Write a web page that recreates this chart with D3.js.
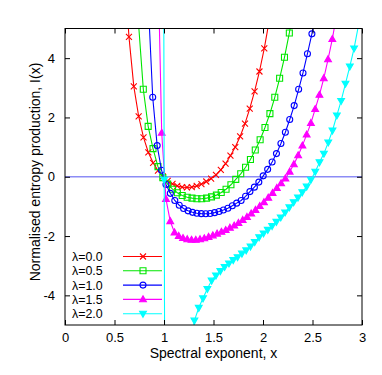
<!DOCTYPE html>
<html><head><meta charset="utf-8">
<script src="https://cdn.jsdelivr.net/npm/d3@7"></script>
<style>
body{margin:0;background:#fff}
text{font-family:"Liberation Sans",Arial,Helvetica,sans-serif;font-size:14px;fill:#000}
</style>
</head><body>
<svg id="chart" width="382" height="375"></svg>
<script>
// ---------- data ----------
const seriesLabels = ["λ=0.0","λ=0.5","λ=1.0","λ=1.5","λ=2.0"];
const xTicks = [0,0.5,1,1.5,2,2.5,3];
const yTicks = [-4,-2,0,2,4];
const xTickLabels = ["0","0.5","1","1.5","2","2.5","3"];
const yTickLabels = ["-4","-2","0","2","4"];

const xL00 = [0.597,0.646,0.695,0.744,0.793,0.842,0.890,0.939,0.988,1.037,1.086,1.134,1.183,1.232,1.281,1.330,1.378,1.427,1.476,1.525,1.574,1.622,1.671,1.720,1.769,1.818,1.866,1.915,1.964,2.013,2.062];
const yL00 = [7.3,4.72,3.05,2.04,1.33,0.82,0.47,0.21,0.01,-0.14,-0.24,-0.31,-0.35,-0.36,-0.35,-0.31,-0.25,-0.16,-0.06,0.06,0.23,0.44,0.71,1.00,1.36,1.79,2.30,2.88,3.55,4.33,5.25];

const xL05 = [0.742,0.791,0.840,0.889,0.939,0.988,1.037,1.086,1.135,1.184,1.234,1.283,1.332,1.381,1.430,1.480,1.529,1.578,1.627,1.676,1.725,1.775,1.824,1.873,1.922,1.971,2.020,2.070,2.119,2.168,2.217,2.266,2.315];
const yL05 = [5.2,2.95,1.70,0.95,0.34,-0.03,-0.25,-0.42,-0.54,-0.63,-0.69,-0.72,-0.74,-0.74,-0.72,-0.68,-0.62,-0.53,-0.42,-0.27,-0.09,0.10,0.32,0.58,0.90,1.25,1.66,2.13,2.68,3.32,4.03,4.85,5.8];

const xL10 = [0.841,0.886,0.931,0.975,1.020,1.064,1.109,1.154,1.198,1.243,1.288,1.332,1.377,1.422,1.466,1.511,1.556,1.600,1.645,1.690,1.734,1.779,1.824,1.868,1.913,1.958,2.002,2.047,2.092,2.136,2.181,2.226,2.270,2.315,2.360,2.404,2.449,2.494,2.538];
const yL10 = [5.9,2.68,1.05,0.22,-0.26,-0.56,-0.80,-0.96,-1.07,-1.15,-1.20,-1.23,-1.245,-1.25,-1.24,-1.21,-1.17,-1.12,-1.06,-0.98,-0.89,-0.80,-0.66,-0.50,-0.35,-0.18,0.03,0.25,0.50,0.78,1.12,1.50,1.93,2.40,2.95,3.50,4.15,4.82,5.6];

const xL15 = [0.934,0.977,1.020,1.063,1.106,1.149,1.192,1.235,1.278,1.321,1.364,1.407,1.450,1.493,1.536,1.580,1.623,1.666,1.709,1.752,1.795,1.838,1.881,1.924,1.967,2.010,2.053,2.097,2.140,2.183,2.226,2.269,2.312,2.355,2.398,2.441,2.484,2.527,2.570,2.614,2.657,2.700,2.743];
const yL15 = [8.0,1.48,-0.75,-1.50,-1.88,-2.00,-2.07,-2.11,-2.13,-2.13,-2.11,-2.08,-2.03,-1.98,-1.92,-1.86,-1.80,-1.72,-1.65,-1.56,-1.46,-1.36,-1.24,-1.12,-0.99,-0.86,-0.71,-0.55,-0.38,-0.22,-0.06,0.17,0.42,0.72,1.05,1.42,1.81,2.28,2.76,3.32,3.96,4.64,5.45];

const xL20 = [0.958,1.002,1.046,1.089,1.133,1.176,1.220,1.263,1.307,1.351,1.394,1.438,1.481,1.525,1.569,1.612,1.656,1.699,1.743,1.787,1.830,1.874,1.917,1.961,2.005,2.048,2.092,2.135,2.179,2.223,2.266,2.310,2.353,2.397,2.441,2.484,2.528,2.571,2.615,2.659,2.702,2.746,2.789,2.833,2.877,2.920,2.964];
const yL20 = [60,-0.1,-60,-30,-17,-11,-7.9,-6.1,-4.85,-4.42,-4.10,-3.78,-3.50,-3.33,-3.18,-3.04,-2.92,-2.81,-2.71,-2.59,-2.48,-2.35,-2.20,-2.04,-1.91,-1.79,-1.66,-1.52,-1.37,-1.20,-1.03,-0.86,-0.70,-0.52,-0.33,-0.10,0.17,0.49,0.78,1.16,1.56,2.07,2.56,3.14,3.72,4.33,5.1];

const seriesColors = ["#ff0000","#00e600","#0000ff","#ff00ff","#00ffff"];
const seriesMarkers = ["x","square","circle","triUp","triDown"];

const seriesX = [xL00,xL05,xL10,xL15,xL20];
const seriesY = [yL00,yL05,yL10,yL15,yL20];

// ---------- layout ----------
const svg = d3.select("#chart");
const pLeft = 65, pRight = 362, pTop = 28.5, pBottom = 325;
const x = d3.scaleLinear().domain([0,3]).range([pLeft,pRight]);
const y = d3.scaleLinear().domain([-5,5]).range([pBottom,pTop]);

svg.append("defs").append("clipPath").attr("id","plotclip")
  .append("rect").attr("x",pLeft).attr("y",pTop).attr("width",pRight-pLeft).attr("height",pBottom-pTop);

// zero line
svg.append("line")
  .attr("x1",x(0)).attr("x2",x(3)).attr("y1",y(0)).attr("y2",y(0))
  .attr("stroke","#8c8cf5").attr("stroke-width",1.6);

function markerPath(type){
  switch(type){
    case "x": return "M-3,-3L3,3M-3,3L3,-3";
    case "square": return "M-3,-3H3V3H-3Z";
    case "circle": return "M3,0A3,3 0 1,1 -3,0A3,3 0 1,1 3,0Z";
    case "triUp": return "M0,-3.6L3.4,2.4L-3.4,2.4Z";
    case "triDown": return "M0,3.6L3.4,-2.4L-3.4,-2.4Z";
  }
}
function filled(type){ return type==="triUp"||type==="triDown"; }

const line = d3.line().x(d=>x(d[0])).y(d=>y(d[1]));
const plotG = svg.append("g").attr("clip-path","url(#plotclip)");

seriesX.forEach((xs,i)=>{
  const pts = xs.map((xv,j)=>[xv,seriesY[i][j]]);
  const col = seriesColors[i];
  plotG.append("path").datum(pts).attr("d",line)
    .attr("fill","none").attr("stroke",col).attr("stroke-width",1.1);
  const vis = pts.filter(p=>p[1]>=-5 && p[1]<=5);
  plotG.selectAll(null).data(vis).enter().append("path")
    .attr("transform",d=>`translate(${x(d[0])},${y(d[1])})`)
    .attr("d",markerPath(seriesMarkers[i]))
    .attr("fill",filled(seriesMarkers[i])?col:"none")
    .attr("stroke",col).attr("stroke-width",1.1);
});

// legend
const legY0 = 256.5, legDy = 14.3;
seriesLabels.forEach((lab,i)=>{
  const ly = legY0 + i*legDy;
  svg.append("text").attr("x",72).attr("y",ly).attr("dy","0.36em")
    .style("font-size","12.4px").text(lab);
  svg.append("line").attr("x1",123).attr("x2",162).attr("y1",ly).attr("y2",ly)
    .attr("stroke",seriesColors[i]).attr("stroke-width",1.1);
  svg.append("path").attr("transform",`translate(143,${ly})`)
    .attr("d",markerPath(seriesMarkers[i]))
    .attr("fill",filled(seriesMarkers[i])?seriesColors[i]:"none")
    .attr("stroke",seriesColors[i]).attr("stroke-width",1.1);
});

// axes (gnuplot style: inward ticks mirrored)
const tl = 5;
const axB = svg.append("g").attr("transform",`translate(0,${pBottom})`)
  .call(d3.axisBottom(x).tickValues(xTicks).tickSize(-tl).tickPadding(8)
    .tickFormat((d,i)=>xTickLabels[i]));
const axT = svg.append("g").attr("transform",`translate(0,${pTop})`)
  .call(d3.axisTop(x).tickValues(xTicks).tickSize(-tl).tickFormat(""));
const axL = svg.append("g").attr("transform",`translate(${pLeft},0)`)
  .call(d3.axisLeft(y).tickValues(yTicks).tickSize(-tl).tickPadding(10)
    .tickFormat((d,i)=>yTickLabels[i]));
const axR = svg.append("g").attr("transform",`translate(${pRight},0)`)
  .call(d3.axisRight(y).tickValues(yTicks).tickSize(-tl).tickFormat(""));
[axB,axT,axL,axR].forEach(a=>{
  a.select(".domain").remove();
  a.selectAll("line").attr("stroke","#000");
  a.selectAll("text").style("font-size","13px").attr("fill","#000")
   .style("font-family","'Liberation Sans',Arial,sans-serif");
});

// border
svg.append("rect").attr("x",pLeft).attr("y",pTop).attr("width",pRight-pLeft).attr("height",pBottom-pTop)
  .attr("fill","none").attr("stroke","#000").attr("stroke-width",1);

// titles
svg.append("text").attr("x",(pLeft+pRight)/2).attr("y",358).attr("text-anchor","middle")
  .text("Spectral exponent, x");
svg.append("text").attr("transform","translate(40,172) rotate(-90)").attr("text-anchor","middle")
  .text("Normalised entropy production, I(x)");
</script>
</body></html>
